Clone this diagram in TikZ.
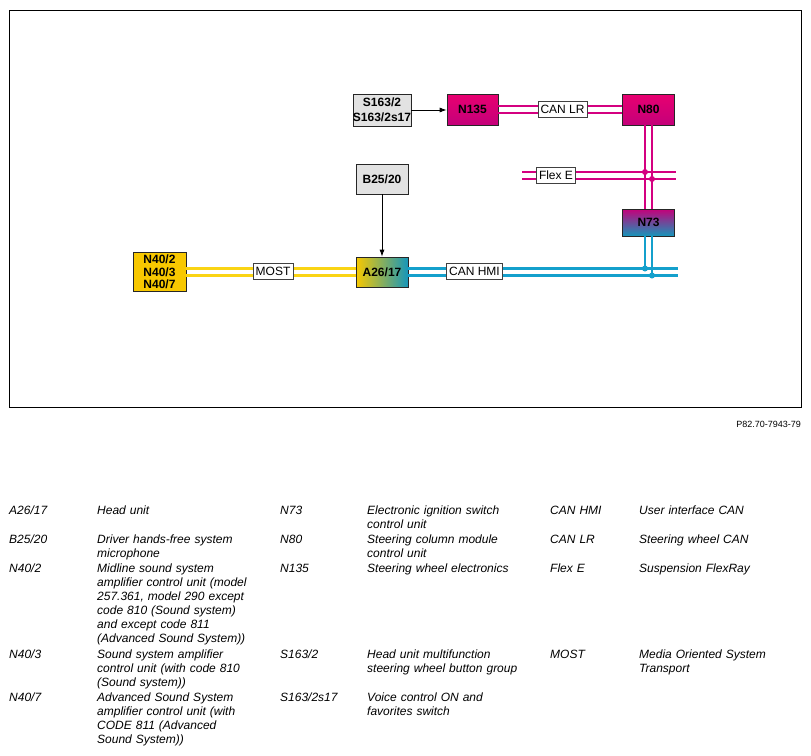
\documentclass[tikz,border=0pt]{standalone}
\usepackage{fontspec}
\setmainfont{Liberation Sans}
\usetikzlibrary{arrows.meta}

\definecolor{boxgray}{RGB}{226,226,226}
\definecolor{magtop}{RGB}{232,0,112}
\definecolor{magbot}{RGB}{196,0,122}
\definecolor{busmagenta}{RGB}{212,0,128}
\definecolor{unityellow}{RGB}{248,200,0}
\definecolor{busyellow}{RGB}{250,212,20}
\definecolor{unitteal}{RGB}{22,150,186}
\definecolor{busblue}{RGB}{20,160,204}

\tikzset{
  unit/.style={draw=black!85, line width=0.7pt, inner sep=0pt, align=center,
    font=\bfseries\fontsize{12}{13}\selectfont},
  busbox/.style={draw=black!75, fill=white, line width=0.6pt, inner sep=2.5pt,
    minimum height=16pt, font=\fontsize{12}{13}\selectfont},
  magbus/.style={draw=busmagenta, line width=2.2pt},
  yelbus/.style={draw=busyellow, line width=2.2pt},
  bluebus/.style={draw=busblue, line width=2.2pt},
  legend/.style={anchor=base west, align=left, inner sep=0pt, text width=190pt,
    font=\itshape\fontsize{12}{14}\selectfont},
}

\begin{document}
\begin{tikzpicture}[x=1pt, y=-1pt]
  \useasboundingbox (0,0) rectangle (811,755);

  % Frame
  \draw[line width=0.7pt] (9,10) rectangle (801,407);

  % Control units
  \node[unit, fill=boxgray, minimum width=57pt, minimum height=32pt,
    font=\bfseries\fontsize{12}{15}\selectfont] (S163) at (382,110) {S163/2\\S163/2s17};
  \node[unit, top color=magtop, bottom color=magbot, minimum width=51pt, minimum height=31pt] (N135) at (472.5,109.5) {N135};
  \node[unit, top color=magtop, bottom color=magbot, minimum width=52pt, minimum height=31pt] (N80) at (648.5,109.5) {N80};
  \node[unit, fill=boxgray, minimum width=52pt, minimum height=30pt] (B25) at (382,179) {B25/20};
  \node[unit, left color=unityellow, right color=unitteal, minimum width=52pt, minimum height=30pt] (A26) at (382,272) {A26/17};
  \node[unit, top color=magbot, bottom color=unitteal, minimum width=52pt, minimum height=27pt] (N73) at (648.5,222.5) {N73};
  \node[unit, fill=unityellow, minimum width=53pt, minimum height=39pt,
    font=\bfseries\fontsize{12}{12.5}\selectfont] (N40) at (159.5,272) {N40/2\\N40/3\\N40/7};

  % Free ends of the buses
  \coordinate (fxW) at (522,175.5);
  \coordinate (fxE) at (676,175.5);
  \coordinate (hmiE) at (678,272);

  % CAN LR
  \draw[magbus] ([yshift=3.5pt]N135.east) -- ([yshift=3.5pt]N80.west);
  \draw[magbus] ([yshift=-3.5pt]N135.east) -- ([yshift=-3.5pt]N80.west);

  % Flex E
  \coordinate (fx1) at ([yshift=3.5pt]fxW);
  \coordinate (fx2) at ([yshift=-3.5pt]fxW);
  \draw[magbus] (fx1) -- (fx1 -| fxE);
  \draw[magbus] (fx2) -- (fx2 -| fxE);

  % N80 to N73
  \coordinate (v1) at ([xshift=-3.5pt]N80.south);
  \coordinate (v2) at ([xshift=3.5pt]N80.south);
  \draw[magbus] (v1) -- (v1 |- N73.north);
  \draw[magbus] (v2) -- (v2 |- N73.north);
  \fill[busmagenta] (v1 |- fx1) circle (3pt);
  \fill[busmagenta] (v2 |- fx2) circle (3pt);

  % MOST
  \draw[yelbus] ([yshift=3.5pt]N40.east) -- ([yshift=3.5pt]A26.west);
  \draw[yelbus] ([yshift=-3.5pt]N40.east) -- ([yshift=-3.5pt]A26.west);

  % CAN HMI
  \coordinate (h1) at ([yshift=3.5pt]A26.east);
  \coordinate (h2) at ([yshift=-3.5pt]A26.east);
  \draw[bluebus] (h1) -- (h1 -| hmiE);
  \draw[bluebus] (h2) -- (h2 -| hmiE);
  \coordinate (w1) at ([xshift=-3.5pt]N73.south);
  \coordinate (w2) at ([xshift=3.5pt]N73.south);
  \draw[bluebus] (w1) -- (w1 |- h1);
  \draw[bluebus] (w2) -- (w2 |- h2);
  \fill[busblue] (w1 |- h1) circle (3pt);
  \fill[busblue] (w2 |- h2) circle (3pt);

  % Signal arrows
  \draw[-{Latex[length=7pt,width=5pt]}, line width=0.8pt] (S163.east) -- (S163.east -| N135.west);
  \draw[-{Latex[length=7pt,width=5pt]}, line width=0.8pt] (B25) -- (A26);

  % Bus labels
  \node[busbox] (most) at (273,271.5) {MOST};
  \node[busbox] (canhmi) at (474.5,271.5) {CAN HMI};
  \node[busbox] (canlr) at (562.5,109) {CAN LR};
  \node[busbox] (flexe) at (556,175) {Flex E};

  % Picture number
  \node[anchor=east, inner sep=0pt, font=\fontsize{9}{10}\selectfont] (pnum) at (801,424) {P82.70-7943-79};

  % Legend, first column
  \node[legend] (kA26) at (9,514) {A26/17};
  \node[legend] (dA26) at (97,514) {Head unit};
  \node[legend] (kB25) at (9,543) {B25/20};
  \node[legend] (dB25) at (97,543) {Driver hands-free system\\microphone};
  \node[legend] (kN402) at (9,572) {N40/2};
  \node[legend] (dN402) at (97,572) {Midline sound system\\amplifier control unit (model\\257.361, model 290 except\\code 810 (Sound system)\\and except code 811\\(Advanced Sound System))};
  \node[legend] (kN403) at (9,658) {N40/3};
  \node[legend] (dN403) at (97,658) {Sound system amplifier\\control unit (with code 810\\(Sound system))};
  \node[legend] (kN407) at (9,701) {N40/7};
  \node[legend] (dN407) at (97,701) {Advanced Sound System\\amplifier control unit (with\\CODE 811 (Advanced\\Sound System))};

  % Legend, second column
  \node[legend] (kN73) at (280,514) {N73};
  \node[legend] (dN73) at (367,514) {Electronic ignition switch\\control unit};
  \node[legend] (kN80) at (280,543) {N80};
  \node[legend] (dN80) at (367,543) {Steering column module\\control unit};
  \node[legend] (kN135) at (280,572) {N135};
  \node[legend] (dN135) at (367,572) {Steering wheel electronics};
  \node[legend] (kS163) at (280,658) {S163/2};
  \node[legend] (dS163) at (367,658) {Head unit multifunction\\steering wheel button group};
  \node[legend] (kS163s) at (280,701) {S163/2s17};
  \node[legend] (dS163s) at (367,701) {Voice control ON and\\favorites switch};

  % Legend, third column
  \node[legend] (kHMI) at (550,514) {CAN HMI};
  \node[legend] (dHMI) at (639,514) {User interface CAN};
  \node[legend] (kLR) at (550,543) {CAN LR};
  \node[legend] (dLR) at (639,543) {Steering wheel CAN};
  \node[legend] (kFlex) at (550,572) {Flex E};
  \node[legend] (dFlex) at (639,572) {Suspension FlexRay};
  \node[legend] (kMOST) at (550,658) {MOST};
  \node[legend] (dMOST) at (639,658) {Media Oriented System\\Transport};

\end{tikzpicture}
\end{document}
